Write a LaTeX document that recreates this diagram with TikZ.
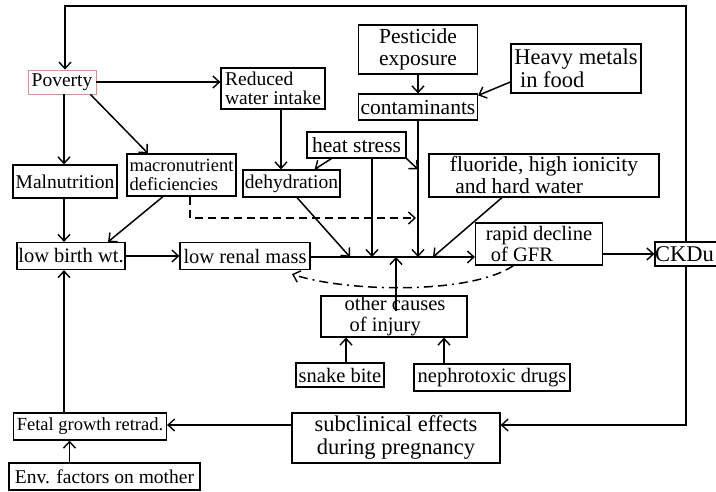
\documentclass[tikz,border=0pt]{standalone}
\usepackage{fontspec}
\setmainfont{Liberation Serif}
\usetikzlibrary{arrows.meta}

\begin{document}
\begin{tikzpicture}[x=1pt,y=-1pt,
    box/.style 2 args={draw, line width=1.2pt, inner sep=0pt, minimum width=#1, minimum height=#2, align=center},
    txtXS/.style={font=\fontsize{18.5}{19}\selectfont},
    txtS/.style={font=\fontsize{19.5}{19}\selectfont},
    txtM/.style={font=\fontsize{20.5}{21}\selectfont},
    txtL/.style={font=\fontsize{21.5}{22}\selectfont},
    txtXL/.style={font=\fontsize{22.5}{23}\selectfont},
    arr/.style={line width=1.5pt, -{Straight Barb[length=6.5pt,width=12pt,line width=1.4pt]}},
    dashedarr/.style={arr, dash pattern=on 8pt off 5pt},
    dashdotarr/.style={arr, dash pattern=on 9pt off 5pt on 9pt off 5pt on 2pt off 5pt}]
    \useasboundingbox (0,0) rectangle (716,491);

    % Draw the boxes
    \node[box={68pt}{24pt}, txtS, draw={rgb,255:red,205;green,150;blue,145}, line width=0.8pt] (pov) at (62,82) {Poverty};
    \node[box={104pt}{41pt}, txtS, align=left] (water) at (273,88.5) {Reduced\\water intake};
    \node[box={119pt}{49pt}, txtL] (pest) at (418,49.5) {Pesticide\\exposure};
    \node[box={130pt}{49pt}, txtXL, align=left] (metals) at (576,68.5) {Heavy metals\\\ in food};
    \node[box={119pt}{26pt}, txtL] (contam) at (418,107) {contaminants};
    \node[box={99pt}{26pt}, txtL] (heat) at (356.5,145) {heat stress};
    \node[box={230pt}{43pt}, txtL, align=left] (fluor) at (544,175.5) {fluoride, high ionicity\\\ and hard water};
    \node[box={104pt}{33pt}, txtS] (maln) at (65,181.5) {Malnutrition};
    \node[box={109pt}{42pt}, txtXS, align=left] (macro) at (181.5,175) {macronutrient\\deficiencies};
    \node[box={97pt}{27pt}, txtS] (dehyd) at (291.5,183.5) {dehydration};
    \node[box={108pt}{27pt}, txtM] (lbw) at (71,256) {low birth wt.};
    \node[box={130pt}{27pt}, txtM] (lrm) at (245,256) {low renal mass};
    \node[box={127pt}{42pt}, txtM, align=left] (gfr) at (539,244) {rapid decline\\\ of GFR\hspace{6pt}};
    \node[box={62pt}{24pt}, txtXL] (ckdu) at (686,254) {CKDu\hspace{3pt}};
    \node[box={146pt}{41pt}, txtM, align=left] (other) at (394,316.5) {\hspace{2pt}other causes\\\hspace{7pt}of injury};
    \node[box={88pt}{24pt}, txtM] (snake) at (340,375) {snake bite};
    \node[box={156pt}{27pt}, txtM] (nephro) at (492,377.5) {nephrotoxic drugs};
    \node[box={153pt}{27pt}, txtXS] (fetal) at (90,426.5) {Fetal growth retrad.};
    \node[box={191pt}{27pt}, txtS] (env) at (104.5,476.5) {Env. factors on mother};
    \node[box={208pt}{50pt}, txtXL] (subcl) at (396,438) {subclinical effects\\during pregnancy};

    % Points on the main line
    \coordinate (top) at (65,6);
    \coordinate (jdeh) at (350,257);
    \coordinate (jheat) at (372,257);
    \coordinate (jfl) at (433,257);

    % Draw the loop back to poverty
    \draw[arr] (ckdu.north) |- (top) -- (top |- pov.north);
    \draw[arr] (ckdu.south) |- ([yshift=13pt]subcl.east);
    \draw[arr] ([yshift=13pt]subcl.west) -- ([yshift=13pt]subcl.west -| fetal.east);
    \draw[arr] ([xshift=-35pt]env.north) -- ([xshift=-35pt]env.north |- fetal.south);
    \draw[arr] ([xshift=-26pt]fetal.north) -- ([xshift=-26pt]fetal.north |- lbw.south);

    % Draw the poverty branch
    \draw[arr] ([xshift=2pt]pov.south) -- ([xshift=2pt]pov.south |- maln.north);
    \draw[arr] ([xshift=-6pt]pov.south east) -- ([xshift=-33.5pt]macro.north);
    \draw[arr] (pov.east) -- (pov.east -| water.west);
    \draw[arr] ([xshift=-1pt]maln.south) -- ([xshift=-1pt]maln.south |- lbw.north);
    \draw[arr] ([xshift=-18.5pt]macro.south) -- ([xshift=37pt]lbw.north);
    \draw[dashedarr] ([xshift=8.5pt]macro.south) |- ([xshift=-2pt]contam.south |- 0,218);
    \draw[arr] ([xshift=8pt]water.south) -- ([xshift=8pt]water.south |- dehyd.north);
    \draw[arr] ([xshift=25pt]heat.south west) -- ([xshift=-26pt]dehyd.north east);

    % Draw the main line
    \draw[arr] (lbw.east) -- (lbw.east -| lrm.west);
    \draw[arr] ([yshift=-1pt]lrm.east) -- ([yshift=-1pt]lrm.east -| gfr.west);
    \draw[arr] (ckdu.west -| gfr.east) -- (ckdu.west);
    \draw[dashdotarr] ([xshift=-25.5pt]gfr.south) .. controls (470,295) and (345,292) .. ([xshift=47pt,yshift=-4pt]lrm.south);

    % Draw the causes of injury
    \draw[arr] ([xshift=5.5pt]dehyd.south) -- (jdeh);
    \draw[arr] (jheat |- heat.south) -- (jheat);
    \draw[arr] (pest.south) -- (contam.north);
    \draw[arr] ([yshift=-13.5pt]metals.west) -- ([yshift=-2pt]contam.north east);
    \draw[arr] (contam.south) -- (contam.south |- jheat);
    \draw[arr] (heat.south east) -- (contam.south |- dehyd.north);
    \draw[arr] ([xshift=-42pt]fluor.south) -- (jfl);
    \draw[arr] ([xshift=2pt,yshift=6pt]other.center) -- ([xshift=2pt]other.center |- jfl);
    \draw[arr] ([xshift=6pt]snake.north) -- ([xshift=6pt]snake.north |- other.south);
    \draw[arr] ([xshift=-48pt]nephro.north) -- ([xshift=-48pt]nephro.north |- other.south);
\end{tikzpicture}
\end{document}
